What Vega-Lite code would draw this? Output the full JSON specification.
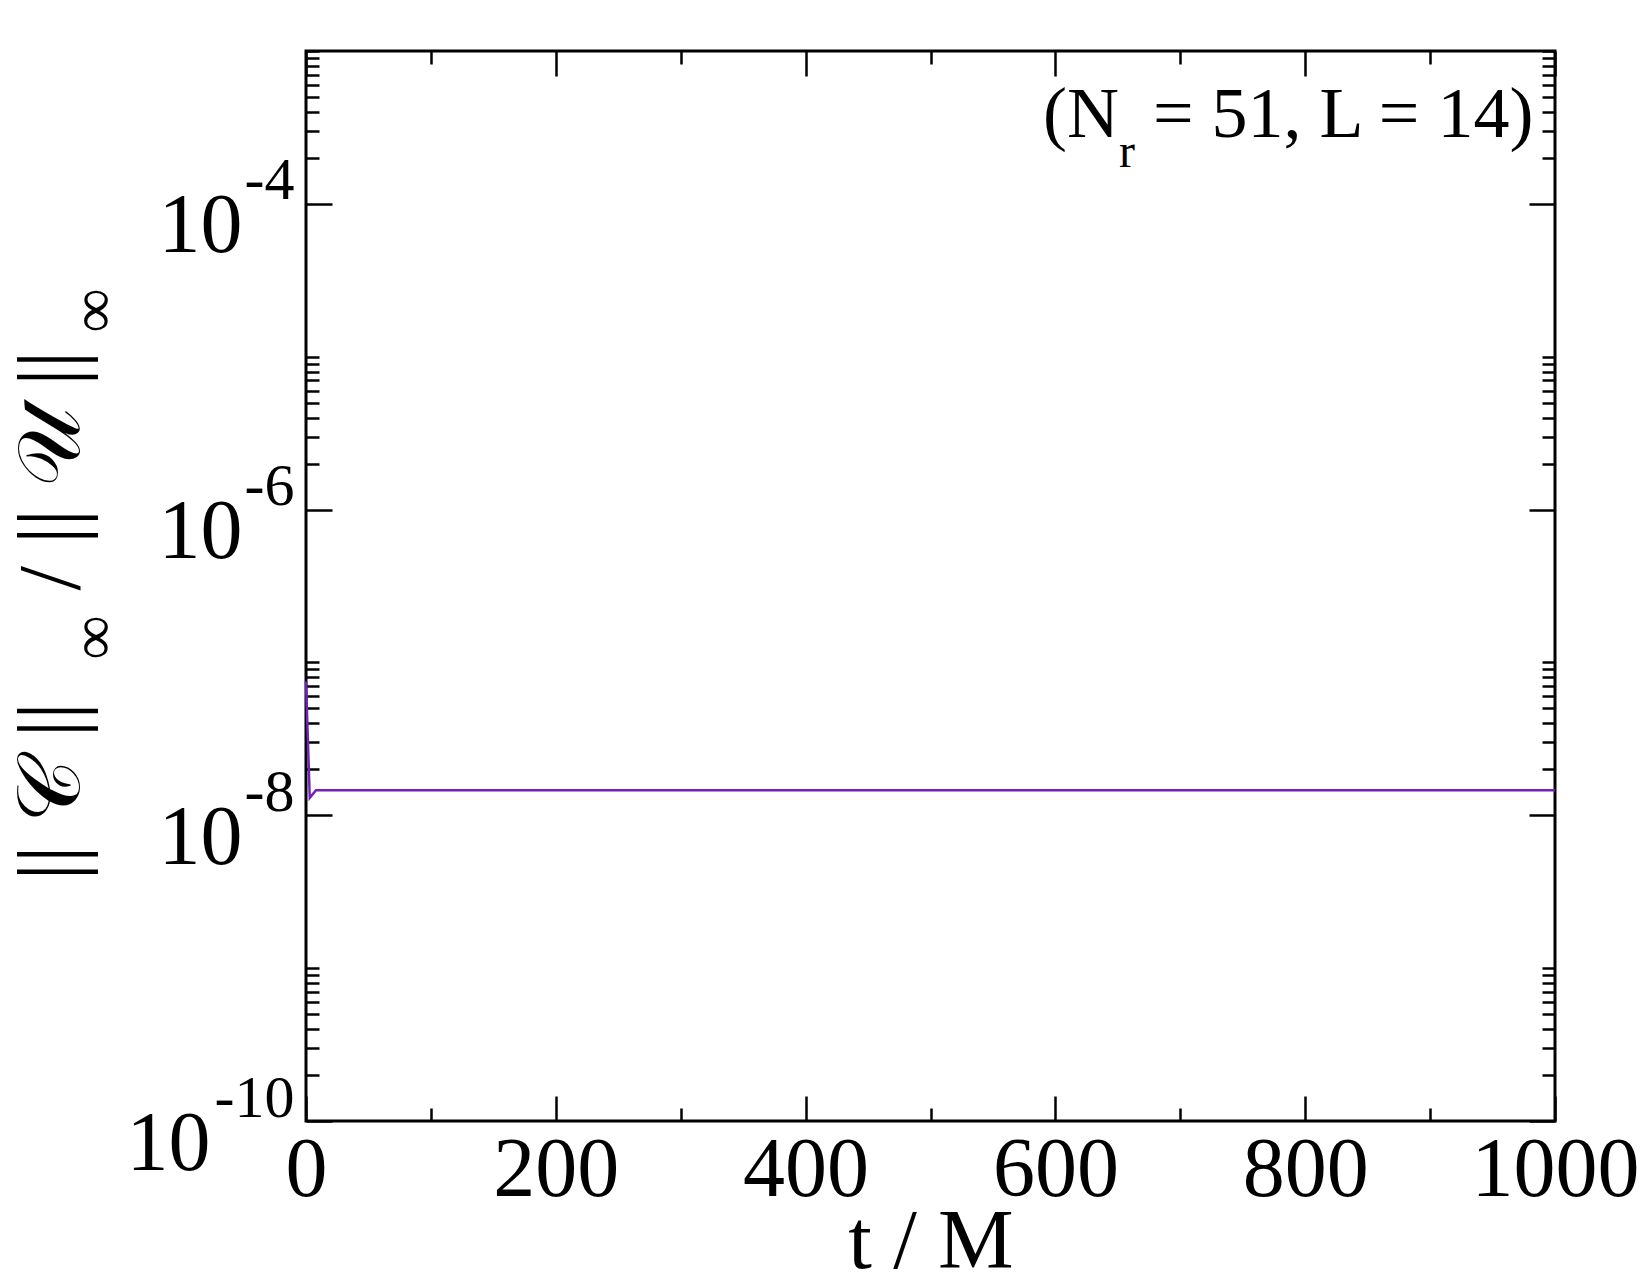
{
  "$schema": "https://vega.github.io/schema/vega-lite/v6.json",
  "width": 1249,
  "height": 1070,
  "autosize": {"type": "none"},
  "padding": {"left": 306, "top": 51, "right": 95, "bottom": 154},
  "background": "white",
  "config": {
    "view": {"stroke": "black", "strokeWidth": 3},
    "axis": {
      "labelFont": "Liberation Serif",
      "titleFont": "Liberation Serif",
      "labelColor": "black",
      "titleColor": "black",
      "titleFontWeight": "normal",
      "grid": false,
      "domain": false,
      "labelOverlap": false,
      "labelFlush": false,
      "labelBound": false,
      "labelLimit": 0,
      "tickColor": "black",
      "tickWidth": 2.5
    }
  },
  "data": {
    "values": [
      {"t": 0, "v": 7.5e-8},
      {"t": 3, "v": 1.3e-8},
      {"t": 8, "v": 1.46e-8},
      {"t": 100, "v": 1.46e-8},
      {"t": 200, "v": 1.46e-8},
      {"t": 300, "v": 1.46e-8},
      {"t": 400, "v": 1.46e-8},
      {"t": 500, "v": 1.46e-8},
      {"t": 600, "v": 1.46e-8},
      {"t": 700, "v": 1.46e-8},
      {"t": 800, "v": 1.46e-8},
      {"t": 900, "v": 1.46e-8},
      {"t": 1000, "v": 1.46e-8}
    ]
  },
  "layer": [
    {
      "mark": {"type": "line", "color": "#7221BC", "strokeWidth": 2.5},
      "encoding": {
        "x": {
          "field": "t", "type": "quantitative",
          "scale": {"domain": [0, 1000], "nice": false, "zero": false},
          "axis": {
            "orient": "bottom", "values": [0, 200, 400, 600, 800, 1000], "format": "d",
            "ticks": false, "labelFontSize": 84, "labelPadding": 74, "labelBaseline": "alphabetic",
            "title": "t / M", "titleFontSize": 85, "titleY": 146, "titleBaseline": "alphabetic"
          }
        },
        "y": {
          "field": "v", "type": "quantitative",
          "scale": {"type": "log", "domain": [1e-10, 1e-3], "nice": false},
          "axis": {
            "orient": "left", "values": [1e-10, 1e-8, 1e-6, 1e-4],
            "ticks": false, "labelExpr": "'10'", "labelFontSize": 84,
            "labelBaseline": "alphabetic", "labelAlign": "right", "labelOffset": 48,
            "labelPadding": {"condition": {"test": "datum.value < 1e-9", "value": 96}, "value": 64},
            "title": "|| 𝒞 ||", "titleFontSize": 88, "titleAngle": 270, "titleAlign": "left",
            "titleBaseline": "alphabetic", "titleX": -228, "titleY": 829
          }
        }
      }
    },
    {
      "mark": {"type": "line", "opacity": 0},
      "encoding": {
        "x": {
          "field": "t", "type": "quantitative",
          "scale": {"domain": [0, 1000], "nice": false, "zero": false},
          "axis": {
            "orient": "bottom", "values": [0, 100, 200, 300, 400, 500, 600, 700, 800, 900, 1000],
            "labels": false, "title": null,
            "tickSize": {"condition": {"test": "datum.value % 200 == 0", "value": -25}, "value": -13}
          }
        },
        "y": {
          "field": "v", "type": "quantitative",
          "scale": {"type": "log", "domain": [1e-10, 1e-3], "nice": false},
          "axis": {
            "orient": "left", "values": [1e-10, 1e-8, 1e-6, 1e-4],
            "ticks": false, "labelExpr": "'-' + round(-log(datum.value)/LN10)", "labelFontSize": 60,
            "labelBaseline": "alphabetic", "labelAlign": "right", "labelOffset": -5, "labelPadding": 12,
            "title": "/ || 𝒰 ||", "titleFontSize": 88, "titleAngle": 270, "titleAlign": "left",
            "titleBaseline": "alphabetic", "titleX": -228, "titleY": 539
          }
        }
      }
    },
    {
      "mark": {"type": "line", "opacity": 0},
      "encoding": {
        "x": {
          "field": "t", "type": "quantitative",
          "scale": {"domain": [0, 1000], "nice": false, "zero": false},
          "axis": {
            "orient": "top", "values": [0, 100, 200, 300, 400, 500, 600, 700, 800, 900, 1000],
            "labels": false, "title": null,
            "tickSize": {"condition": {"test": "datum.value % 200 == 0", "value": -25}, "value": -13}
          }
        },
        "y": {
          "field": "v", "type": "quantitative",
          "scale": {"type": "log", "domain": [1e-10, 1e-3], "nice": false},
          "axis": {
            "orient": "left",
            "values": [1e-10, 2e-10, 3e-10, 4e-10, 5e-10, 6e-10, 7e-10, 8e-10, 9e-10, 1e-9,
                       1e-8, 2e-8, 3e-8, 4e-8, 5e-8, 6e-8, 7e-8, 8e-8, 9e-8, 1e-7,
                       1e-6, 2e-6, 3e-6, 4e-6, 5e-6, 6e-6, 7e-6, 8e-6, 9e-6, 1e-5,
                       1e-4, 2e-4, 3e-4, 4e-4, 5e-4, 6e-4, 7e-4, 8e-4, 9e-4, 1e-3],
            "labels": false,
            "tickSize": {"condition": {"test": "indexof([1e-10, 1e-8, 1e-6, 1e-4], datum.value) >= 0", "value": -26}, "value": -13},
            "title": "∞", "titleFontSize": 62, "titleAngle": 270, "titleAlign": "left",
            "titleBaseline": "alphabetic", "titleX": -193, "titleY": 608
          }
        }
      }
    },
    {
      "mark": {"type": "line", "opacity": 0},
      "encoding": {
        "x": {
          "field": "t", "type": "quantitative",
          "scale": {"domain": [0, 1000], "nice": false, "zero": false},
          "axis": null
        },
        "y": {
          "field": "v", "type": "quantitative",
          "scale": {"type": "log", "domain": [1e-10, 1e-3], "nice": false},
          "axis": {
            "orient": "right",
            "values": [1e-10, 2e-10, 3e-10, 4e-10, 5e-10, 6e-10, 7e-10, 8e-10, 9e-10, 1e-9,
                       1e-8, 2e-8, 3e-8, 4e-8, 5e-8, 6e-8, 7e-8, 8e-8, 9e-8, 1e-7,
                       1e-6, 2e-6, 3e-6, 4e-6, 5e-6, 6e-6, 7e-6, 8e-6, 9e-6, 1e-5,
                       1e-4, 2e-4, 3e-4, 4e-4, 5e-4, 6e-4, 7e-4, 8e-4, 9e-4, 1e-3],
            "labels": false,
            "tickSize": {"condition": {"test": "indexof([1e-10, 1e-8, 1e-6, 1e-4], datum.value) >= 0", "value": -26}, "value": -13},
            "title": "∞", "titleFontSize": 62, "titleAngle": 270, "titleAlign": "left",
            "titleBaseline": "alphabetic", "titleX": -1442, "titleY": 281
          }
        }
      }
    },
    {
      "data": {"values": [{"s": "(N"}]},
      "mark": {"type": "text", "font": "Liberation Serif", "fontSize": 72, "align": "left", "baseline": "alphabetic", "fill": "black"},
      "encoding": {
        "x": {"datum": 590.1, "type": "quantitative", "scale": {"domain": [0, 1000], "nice": false, "zero": false}, "axis": null},
        "y": {"datum": 2.738e-4, "type": "quantitative", "scale": {"type": "log", "domain": [1e-10, 1e-3], "nice": false}, "axis": null},
        "text": {"field": "s"}
      }
    },
    {
      "data": {"values": [{"s": "r"}]},
      "mark": {"type": "text", "font": "Liberation Serif", "fontSize": 48, "align": "left", "baseline": "alphabetic", "fill": "black"},
      "encoding": {
        "x": {"datum": 650.9, "type": "quantitative", "scale": {"domain": [0, 1000], "nice": false, "zero": false}, "axis": null},
        "y": {"datum": 1.742e-4, "type": "quantitative", "scale": {"type": "log", "domain": [1e-10, 1e-3], "nice": false}, "axis": null},
        "text": {"field": "s"}
      }
    },
    {
      "data": {"values": [{"s": "= 51, L = 14)"}]},
      "mark": {"type": "text", "font": "Liberation Serif", "fontSize": 72, "align": "left", "baseline": "alphabetic", "fill": "black"},
      "encoding": {
        "x": {"datum": 678.1, "type": "quantitative", "scale": {"domain": [0, 1000], "nice": false, "zero": false}, "axis": null},
        "y": {"datum": 2.738e-4, "type": "quantitative", "scale": {"type": "log", "domain": [1e-10, 1e-3], "nice": false}, "axis": null},
        "text": {"field": "s"}
      }
    }
  ],
  "resolve": {"axis": {"x": "independent", "y": "independent"}}
}
